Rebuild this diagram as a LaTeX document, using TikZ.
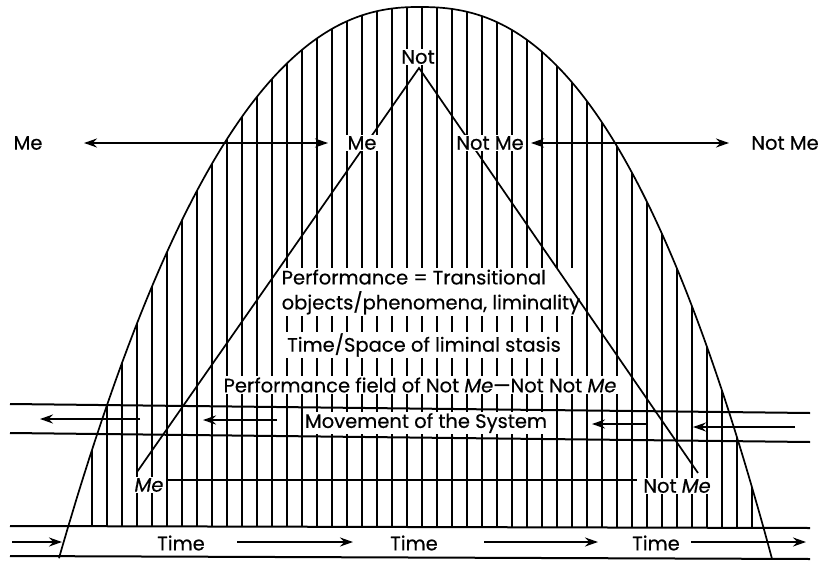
\documentclass[tikz,border=0pt]{standalone}
\usepackage{fontspec}
\setmainfont{Poppins}[FakeBold=0.4]
\usetikzlibrary{arrows.meta}
\begin{document}
\begin{tikzpicture}[x=1pt,y=-1pt,
  lbl/.style={fill=white, inner sep=1.5pt, font=\fontsize{19.5}{25}\selectfont},
  txt/.style={inner sep=1pt, font=\fontsize{19.5}{25}\selectfont},
  vline/.style={line width=1.5pt},
  hline/.style={line width=2pt},
  edge/.style={line width=1.7pt},
  arr/.style={line width=2pt, -{Stealth[length=13pt,width=9pt]}},
  darr/.style={line width=2pt, {Stealth[length=13pt,width=9pt]}-{Stealth[length=13pt,width=9pt]}},
  archpath/.style={insert path={plot[domain=360:0.3, samples=120, variable=\w] ({419-\w},{7+(\w/22.4)^2.273}) -- plot[domain=0.3:353, samples=120, variable=\w] ({419+\w},{7+(\w/24.9)^2.381})}}]
\useasboundingbox (0,0) rectangle (821,567);
\fill[white] (0,0) rectangle (821,567);
% vertical hatching inside the arch
\begin{scope}
\clip[archpath] -- cycle;
\foreach \i in {0,...,44} { \draw[vline] ({92+15*\i},0) -- ({92+15*\i},527); }
\end{scope}
% arch
\draw[edge, archpath];
% central text block (drawn before the triangle so the legs stay visible)
\node[lbl, align=left, anchor=west] (perf) at (280,292) {Performance = Transitional\\objects/phenomena, liminality};
% triangle
\coordinate (apex) at (419,68);
\coordinate (legL) at (137,472);
\coordinate (legR) at (698,473);
\draw[edge] (legL) -- (apex) -- (legR);
% horizontal lines
\coordinate (a1) at (10,404); \coordinate (a2) at (810,413);
\coordinate (b1) at (10,433); \coordinate (b2) at (810,442);
\coordinate (c1) at (10,526); \coordinate (c2) at (810,528);
\coordinate (d1) at (10,556); \coordinate (d2) at (810,559);
\draw[hline] (a1) -- (a2);
\draw[hline] (b1) -- (b2);
\draw[hline] (c1) -- (c2);
\draw[hline] (d1) -- (d2);
\coordinate (m1) at (167,480); \coordinate (m2) at (637,480);
\draw[edge] (m1) -- (m2);
% system movement arrows
\coordinate (s1a) at (140,419); \coordinate (s1b) at (40,419);
\coordinate (s2a) at (277,420); \coordinate (s2b) at (203,420);
\coordinate (s3a) at (646,424); \coordinate (s3b) at (592,424);
\coordinate (s4a) at (795,427); \coordinate (s4b) at (693,427);
\draw[arr] (s1a) -- (s1b);
\draw[arr] (s2a) -- (s2b);
\draw[arr] (s3a) -- (s3b);
\draw[arr] (s4a) -- (s4b);
% time arrows
\coordinate (t1a) at (12,542); \coordinate (t1b) at (62,542);
\coordinate (t2a) at (237,542); \coordinate (t2b) at (353,542);
\coordinate (t3a) at (484,542); \coordinate (t3b) at (598,542);
\coordinate (t4a) at (691,542); \coordinate (t4b) at (806,542);
\draw[arr] (t1a) -- (t1b);
\draw[arr] (t2a) -- (t2b);
\draw[arr] (t3a) -- (t3b);
\draw[arr] (t4a) -- (t4b);
% Me / Not Me arrows
\coordinate (u1a) at (84,143); \coordinate (u1b) at (328,143);
\coordinate (u2a) at (531,143); \coordinate (u2b) at (729,143);
\draw[darr] (u1a) -- (u1b);
\draw[darr] (u2a) -- (u2b);
% labels
\node[txt] (meL) at (28,143) {Me};
\node[lbl] (meC) at (362,143) {Me};
\node[lbl] (notmeC) at (490,143) {Not Me};
\node[txt] (notmeR) at (785,143) {Not Me};
\node[lbl] (not) at (418,57) {Not};
\node[lbl] (stasis) at (424,345) {Time/Space of liminal stasis};
\node[lbl] (field) at (420,385) {Performance field of Not \textit{Me}---Not Not \textit{Me}};
\node[lbl] (move) at (426,423) {Movement of the System};
\node[lbl] (meB) at (149,485) {\textit{Me}};
\node[lbl] (notmeB) at (677,486) {Not \textit{Me}};
\node[txt] (time1) at (181,543) {Time};
\node[txt] (time2) at (414,543) {Time};
\node[txt] (time3) at (656,543) {Time};
\end{tikzpicture}
\end{document}
